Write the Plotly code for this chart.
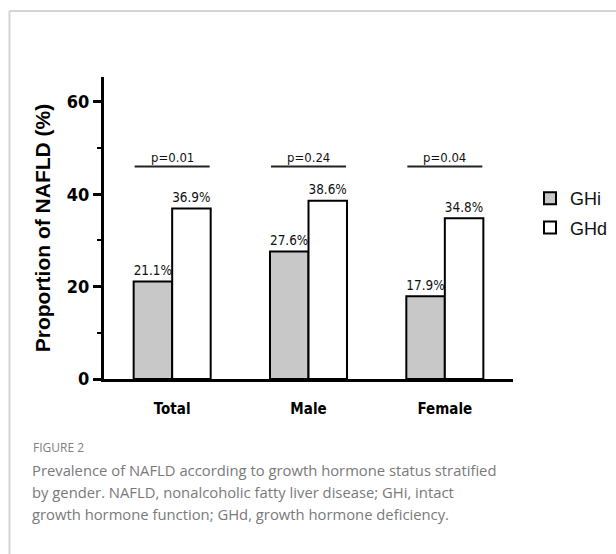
import plotly.graph_objects as go

categories = ["Total", "Male", "Female"]
ghi_values = [21.1, 27.6, 17.9]
ghd_values = [36.9, 38.6, 34.8]
p_values = ["p=0.01", "p=0.24", "p=0.04"]
p_line_level = 46
y_ticks = [0, 20, 40, 60]
y_minor_ticks = [10, 30, 50]
caption_title = "FIGURE 2"
caption_lines = [
    "Prevalence of NAFLD according to growth hormone status stratified",
    "by gender. NAFLD, nonalcoholic fatty liver disease; GHi, intact",
    "growth hormone function; GHd, growth hormone deficiency.",
]

NARROW = "Liberation Sans Narrow, Arial Narrow, DejaVu Sans Condensed, sans-serif"

fig = go.Figure()
fig.add_trace(go.Bar(
    x=categories, y=ghi_values, name="GHi",
    marker=dict(color="#c8c8c8", line=dict(color="black", width=2)),
    text=[f"{v}%" for v in ghi_values], textposition="outside",
    textfont=dict(family=NARROW, size=15, color="#111"),
    cliponaxis=False, legendgroup="a",
))
fig.add_trace(go.Bar(
    x=categories, y=ghd_values, name="GHd",
    marker=dict(color="white", line=dict(color="black", width=2)),
    text=[f"{v}%" for v in ghd_values], textposition="outside",
    textfont=dict(family=NARROW, size=15, color="#111"),
    cliponaxis=False, legendgroup="b",
))

# p-value brackets
for i, p in enumerate(p_values):
    fig.add_shape(type="line", xref="x", yref="y",
                  x0=i - 0.275, x1=i + 0.275, y0=p_line_level, y1=p_line_level,
                  line=dict(color="#222", width=2))
    fig.add_annotation(x=i, y=p_line_level, xref="x", yref="y", text=p,
                       showarrow=False, yanchor="bottom", yshift=0,
                       font=dict(family=NARROW, size=13, color="#111"))

# caption
def py(px):
    return (379 - px) / 302

def pxx(px):
    return (px - 104) / 409

fig.add_annotation(x=pxx(31), y=py(447), xref="paper", yref="paper",
                   text=caption_title, showarrow=False, xanchor="left", yanchor="middle",
                   font=dict(family="Open Sans, sans-serif", size=12, color="#808080"))
for k, line in enumerate(caption_lines):
    fig.add_annotation(x=pxx(30), y=py(470 + 22 * k), xref="paper", yref="paper",
                       text=line, showarrow=False, xanchor="left", yanchor="middle",
                       font=dict(family="Open Sans, sans-serif", size=14.8, color="#7a7a7a"))

# frame
fig.add_shape(type="line", xref="paper", yref="paper",
              x0=pxx(9.5), x1=pxx(620), y0=py(11), y1=py(11),
              line=dict(color="#d4d4d4", width=2))
fig.add_shape(type="line", xref="paper", yref="paper",
              x0=pxx(9.5), x1=pxx(9.5), y0=py(11), y1=py(560),
              line=dict(color="#d4d4d4", width=2))

fig.update_layout(
    width=616, height=554,
    margin=dict(l=104, r=103, t=77, b=175, autoexpand=False),
    paper_bgcolor="white", plot_bgcolor="white",
    barmode="group", bargap=0.435, bargroupgap=0,
    showlegend=True,
    legend=dict(x=pxx(530), y=py(180), xanchor="left", yanchor="top",
                font=dict(family="Liberation Sans, Arial, sans-serif", size=18, color="#111"),
                tracegroupgap=3, bgcolor="rgba(0,0,0,0)"),
    xaxis=dict(type="category", range=[-0.5, 2.5], showline=True, linewidth=3,
               linecolor="black", ticks="", showgrid=False, zeroline=False,
               tickfont=dict(family=NARROW, size=15, color="black", weight="bold"),
               ticklabelstandoff=14, automargin=False),
    yaxis=dict(range=[0, 65.4], showline=True, linewidth=3, linecolor="black",
               ticks="outside", ticklen=8, tickwidth=2.5, tickcolor="black",
               tickvals=y_ticks, showgrid=False, zeroline=False, automargin=False,
               tickfont=dict(family=NARROW, size=18, color="black", weight="bold"),
               minor=dict(tickvals=y_minor_ticks, ticks="outside", ticklen=4,
                          tickwidth=2, tickcolor="black", showgrid=False),
               title=dict(text="Proportion of NAFLD (%)", standoff=11,
                          font=dict(family="Liberation Sans, Arial, sans-serif",
                                    size=21, color="black", weight="bold"))),
)

fig.write_html("out.html", config={"displayModeBar": False},
               post_script="document.body.style.margin='0';")
